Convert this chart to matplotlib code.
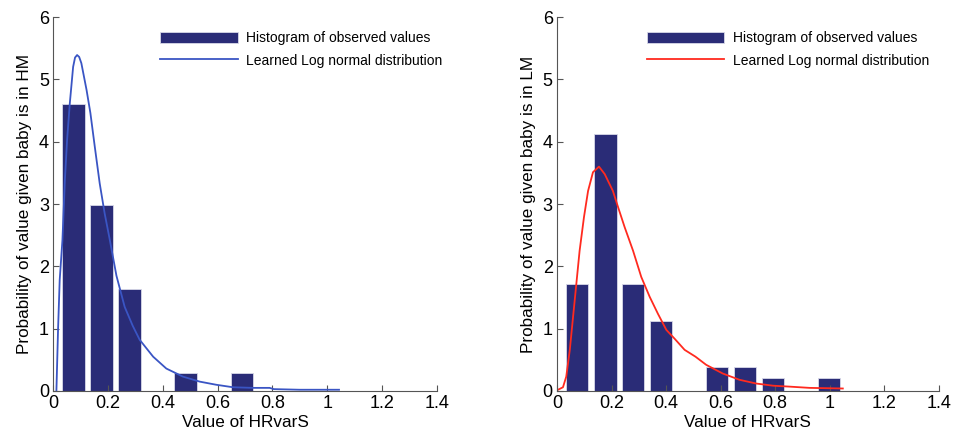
import numpy as np
import matplotlib.pyplot as plt
from matplotlib.ticker import FuncFormatter

plt.rcParams['font.family'] = ['Liberation Sans', 'DejaVu Sans']

# histogram bins (centres) shared by both panels
bin_centers = [0.074, 0.177, 0.279, 0.382, 0.484, 0.587, 0.689, 0.792, 0.894, 0.997]
bar_width = 0.083

hm_heights = [4.61, 2.99, 1.64, 0.0, 0.29, 0.0, 0.29, 0.0, 0.0, 0.0]
lm_heights = [1.71, 4.12, 1.71, 1.12, 0.0, 0.39, 0.39, 0.21, 0.0, 0.21]

# learned log normal curves
hm_x = [0.012, 0.018, 0.024, 0.034, 0.043, 0.051, 0.061, 0.073, 0.080, 0.0875, 0.095, 0.103,
        0.122, 0.136, 0.152, 0.170, 0.188, 0.207, 0.231, 0.261, 0.290, 0.316, 0.365,
        0.413, 0.474, 0.535, 0.595, 0.656, 0.729, 0.790, 0.805, 0.899, 1.043]
hm_y = [0.0, 0.98, 1.78, 2.42, 3.39, 4.03, 4.62, 5.20, 5.35, 5.39, 5.36, 5.26,
        4.83, 4.46, 3.92, 3.33, 2.85, 2.42, 1.85, 1.35, 1.05, 0.82, 0.55,
        0.36, 0.23, 0.15, 0.10, 0.06, 0.05, 0.05, 0.03, 0.02, 0.02]

lm_x = [0.0, 0.004, 0.022, 0.034, 0.047, 0.059, 0.071, 0.083, 0.099, 0.114, 0.132,
        0.154, 0.175, 0.205, 0.224, 0.248, 0.279, 0.309, 0.340, 0.370, 0.401, 0.431,
        0.468, 0.508, 0.547, 0.608, 0.669, 0.730, 0.792, 0.853, 0.926, 1.048]
lm_y = [0.02, 0.02, 0.06, 0.23, 0.66, 1.19, 1.72, 2.25, 2.79, 3.21, 3.51,
        3.60, 3.48, 3.21, 2.95, 2.63, 2.25, 1.83, 1.51, 1.24, 0.98, 0.84,
        0.66, 0.55, 0.42, 0.28, 0.18, 0.12, 0.085, 0.07, 0.05, 0.04]

bar_color = '#2a2c77'

fig = plt.figure(figsize=(9.57, 4.41), dpi=100)
ax1 = fig.add_axes([0.0555, 0.1134, 0.401, 0.848])
ax2 = fig.add_axes([0.582, 0.1134, 0.399, 0.848])

panels = [
    (ax1, hm_heights, hm_x, hm_y, '#3a55c4', 'HM', 0.279),
    (ax2, lm_heights, lm_x, lm_y, '#ff2a1f', 'LM', 0.235),
]

for ax, heights, cx, cy, lcolor, group, leg_x in panels:
    bars = ax.bar(bin_centers, heights, width=bar_width, color=bar_color,
                  edgecolor='#d8d8e8', linewidth=0.6)
    line, = ax.plot(cx, cy, color=lcolor, linewidth=1.3)
    ax.set_xlim(0, 1.4)
    ax.set_ylim(0, 6)
    ax.set_xticks(np.arange(0, 1.41, 0.2))
    ax.set_yticks(range(0, 7))
    ax.xaxis.set_major_formatter(FuncFormatter(lambda v, p: '%g' % round(v, 2)))
    ax.spines['top'].set_visible(False)
    ax.spines['right'].set_visible(False)
    for s in ('left', 'bottom'):
        ax.spines[s].set_color('#555555')
        ax.spines[s].set_linewidth(0.8)
    ax.tick_params(direction='in', length=4, width=0.8, color='#555555',
                   labelsize=13, pad=3)
    ax.set_xlabel('Value of HRvarS', fontsize=12.3, labelpad=2)
    ax.set_ylabel('Probability of value given baby is in ' + group, fontsize=12.3, labelpad=5)
    ax.legend([bars, line], ['Histogram of observed values', 'Learned Log normal distribution'],
              loc='upper left', bbox_to_anchor=(leg_x, 0.962), frameon=False,
              fontsize=10, handlelength=5.6, handleheight=0.8, handletextpad=0.6,
              labelspacing=0.6, borderpad=0, borderaxespad=0)

fig.savefig('out.png', dpi=100)
